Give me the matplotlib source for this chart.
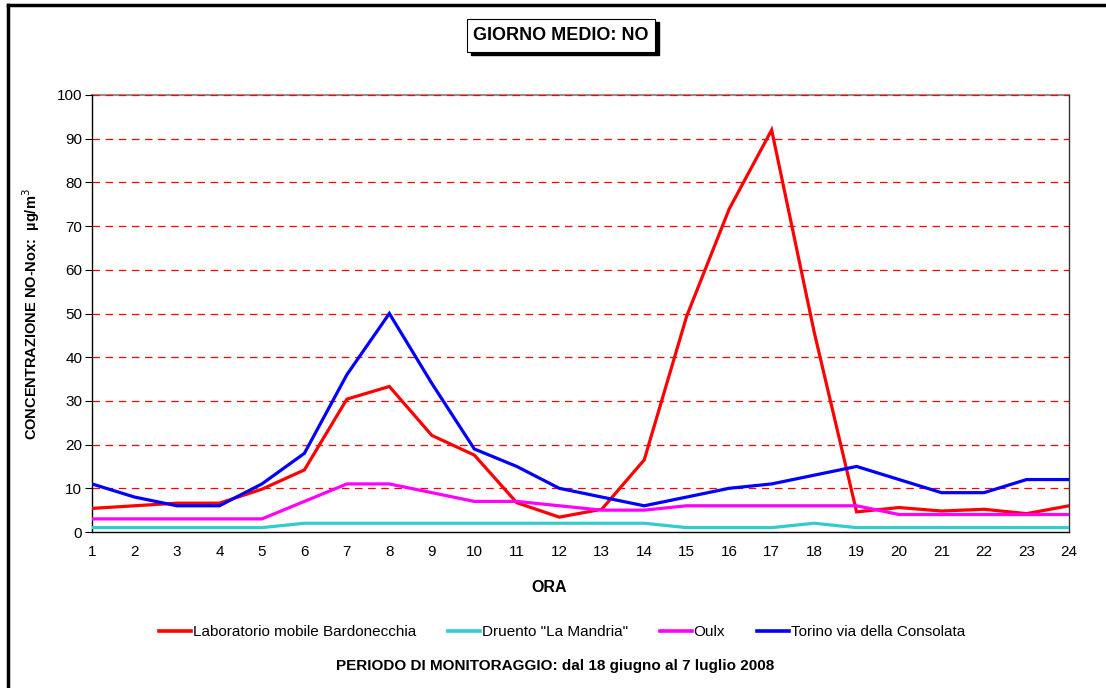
import matplotlib
matplotlib.use("Agg")
import matplotlib.pyplot as plt
from matplotlib.lines import Line2D
from matplotlib.patches import Rectangle

plt.rcParams['font.family'] = ['Liberation Sans', 'DejaVu Sans']

hours = list(range(1, 25))
bardonecchia = [5.4, 6.0, 6.6, 6.6, 9.8, 14.2, 30.4, 33.3, 22.1, 17.6, 6.7, 3.4,
                5.2, 16.5, 49.4, 73.9, 92.0, 45.8, 4.6, 5.6, 4.8, 5.2, 4.2, 6.0]
druento = [1, 1, 1, 1, 1, 2, 2, 2, 2, 2, 2, 2, 2, 2, 1, 1, 1, 2, 1, 1, 1, 1, 1, 1]
oulx = [3, 3, 3, 3, 3, 7, 11, 11, 9, 7, 7, 6, 5, 5, 6, 6, 6, 6, 6, 4, 4, 4, 4, 4]
torino = [11, 8, 6, 6, 11, 18, 36, 50, 34, 19, 15, 10, 8, 6, 8, 10, 11, 13, 15, 12,
          9, 9, 12, 12]
series_names = ['Laboratorio mobile Bardonecchia', 'Druento "La Mandria"', 'Oulx',
                'Torino via della Consolata']
series_colors = ['#FF0000', '#33CCCC', '#FF00FF', '#0000FF']
yticks = list(range(0, 101, 10))

W, H = 1106, 688
fig = plt.figure(figsize=(W / 100, H / 100), dpi=100)
ax = fig.add_axes([92 / W, 1 - 532 / H, (1069 - 92) / W, (532 - 95) / H])

for vals, name, col in zip([bardonecchia, druento, oulx, torino], series_names, series_colors):
    ax.plot(hours, vals, color=col, lw=2.3, label=name, solid_joinstyle='miter', zorder=3)

ax.set_xlim(1, 24)
ax.set_ylim(0, 100)
ax.set_xticks(hours)
ax.set_yticks(yticks)
for y in yticks[1:]:
    ax.axhline(y, color='#FF0000', lw=0.9, dashes=(6, 4.5), zorder=1)
ax.tick_params(axis='x', length=0, pad=9, labelsize=11)
ax.tick_params(axis='y', direction='out', length=5, width=0.8, pad=2, labelsize=11)
for s in ['left', 'bottom']:
    ax.spines[s].set_color('black')
    ax.spines[s].set_linewidth(1.0)
ax.spines['right'].set_color('#333333')
ax.spines['right'].set_linewidth(1.0)
ax.spines['top'].set_color('#909090')
ax.spines['top'].set_linewidth(1.5)
ax.spines['top'].set_zorder(0)

fig.text(31 / W, 1 - 314 / H, 'CONCENTRAZIONE NO-Nox:  µg/m$^3$', rotation=90,
         ha='center', va='center', fontsize=10.5, fontweight='bold')
fig.text(549 / W, 1 - 588 / H, 'ORA', ha='center', va='center', fontsize=11.5,
         fontweight='bold')

# title with shadow box
fig.text(561 / W, 1 - 35 / H, 'GIORNO MEDIO: NO', ha='center', va='center',
         fontsize=13, fontweight='bold', zorder=5)
fig.patches.append(Rectangle((471 / W, 1 - 55 / H), (655 - 467) / W, 33 / H,
                             transform=fig.transFigure, facecolor='black',
                             edgecolor='black', zorder=3))
fig.patches.append(Rectangle((467 / W, 1 - 52 / H), (655 - 467) / W, 33 / H,
                             transform=fig.transFigure, facecolor='white',
                             edgecolor='black', lw=0.8, zorder=4))

handles = [Line2D([0], [0], color=c, lw=2.6) for c in series_colors]
fig.legend(handles, series_names, loc='center', bbox_to_anchor=(562 / W, 1 - 632 / H),
           ncol=4, frameon=False, fontsize=11, handlelength=2.1, handletextpad=0.1,
           columnspacing=2.1)

fig.text(555 / W, 1 - 666 / H, 'PERIODO DI MONITORAGGIO: dal 18 giugno al 7 luglio 2008',
         ha='center', va='center', fontsize=11, fontweight='bold')

# outer frame (top and left visible)
fig.add_artist(Line2D([7.5 / W, 1.0], [1 - 5 / H, 1 - 5 / H], color='black', lw=2.5,
                      transform=fig.transFigure))
fig.add_artist(Line2D([7.5 / W, 7.5 / W], [0, 1 - 5 / H], color='black', lw=2.5,
                      transform=fig.transFigure))

fig.savefig('out.png', dpi=100, facecolor='white')
